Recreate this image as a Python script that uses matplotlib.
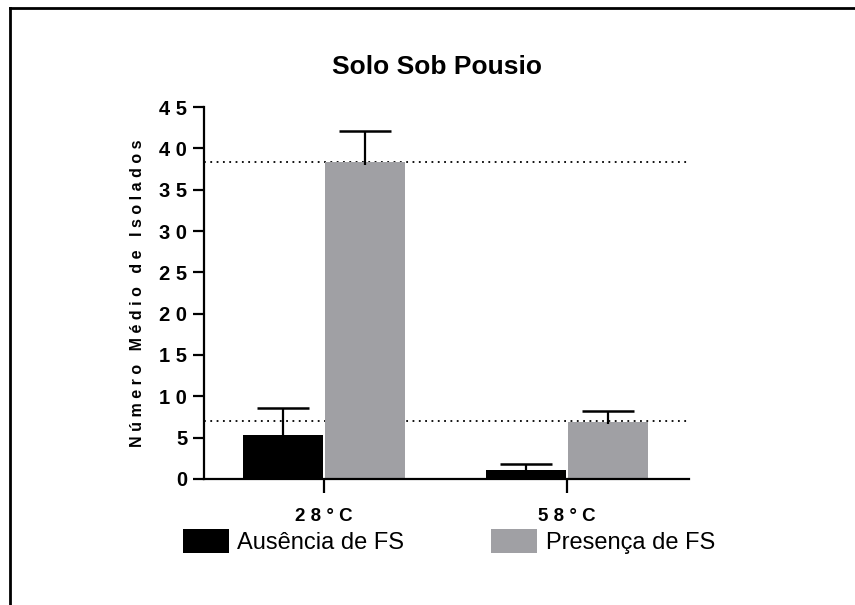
import numpy as np
import matplotlib.pyplot as plt
from matplotlib.patches import Patch
from matplotlib.lines import Line2D

plt.rcParams['font.family'] = ['Liberation Sans', 'DejaVu Sans']

# chart data
categorias = ['28°C', '58°C']
series = ['Ausência de FS', 'Presença de FS']
ausencia = [5.3, 1.1]
ausencia_erro = [3.3, 0.7]
presenca = [38.3, 6.9]
presenca_erro = [3.8, 1.35]
linhas_ref = [38.4, 7.0]
yticks = list(range(0, 46, 5))
cores = ['#000000', '#a0a0a4']


def espacado(s):
    # the original uses wide letter spacing on axis text
    return ' '.join(s)


fig = plt.figure(figsize=(8.55, 6.05), dpi=100)
ax = fig.add_axes([0.2386, 0.2083, 0.5672, 0.6148])

x = np.arange(len(categorias))
w = 0.33

# dotted reference lines behind the bars
for v in linhas_ref:
    ax.axhline(v, color='black', linestyle=(0, (1, 2.5)), linewidth=1.3, zorder=1)

ax.bar(x - w / 2 - 0.005, ausencia, w, color=cores[0], zorder=2)
ax.bar(x + w / 2 + 0.005, presenca, w, color=cores[1], zorder=2)
for xs, vals, errs in [(x - w / 2 - 0.005, ausencia, ausencia_erro),
                       (x + w / 2 + 0.005, presenca, presenca_erro)]:
    eb = ax.errorbar(xs, vals, yerr=[np.full(2, 0.3), errs], fmt='none',
                     ecolor='black', elinewidth=1.6, capsize=19, capthick=1.8, zorder=3)
    eb[1][0].set_visible(False)  # only the upper cap

ax.set_xlim(-0.494, 1.502)
ax.set_ylim(0, 45)
ax.set_yticks(yticks)
ax.set_yticklabels([espacado(str(t)) for t in yticks])
ax.set_xticks(x)
ax.set_xticklabels([espacado(c) for c in categorias])
for s in ['top', 'right']:
    ax.spines[s].set_visible(False)
for s in ['left', 'bottom']:
    ax.spines[s].set_linewidth(1.6)
ax.tick_params(axis='y', length=8, width=1.6, labelsize=14.5, pad=4)
ax.tick_params(axis='x', length=10, width=1.6, labelsize=13.5, pad=11)
for lab in ax.get_yticklabels() + ax.get_xticklabels():
    lab.set_fontweight('bold')

ax.set_ylabel('   '.join(espacado(p) for p in 'Número Médio de Isolados'.split()),
              fontsize=11.5, fontweight='bold', labelpad=10)
fig.text(0.511, 0.889, 'Solo Sob Pousio', ha='center', va='center',
         fontsize=19, fontweight='bold')

handles = [Patch(facecolor=c, edgecolor='none') for c in cores]
fig.legend(handles, series, loc='center', bbox_to_anchor=(0.525, 0.105), ncol=2,
           frameon=False, fontsize=17, handlelength=1.95, handleheight=1.23,
           columnspacing=3.7, handletextpad=0.34)

# outer frame
fig.add_artist(Line2D([10 / 855, 1], [1 - 8 / 605, 1 - 8 / 605], color='black',
                      linewidth=2, transform=fig.transFigure))
fig.add_artist(Line2D([10 / 855, 10 / 855], [0, 1 - 8 / 605], color='black',
                      linewidth=2, transform=fig.transFigure))

fig.savefig('out.png', dpi=100)
